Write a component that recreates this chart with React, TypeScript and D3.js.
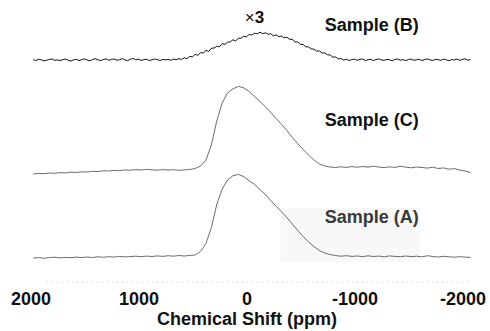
import React from "react";
import * as d3 from "d3";

// chemical shift grid (ppm), 50 ppm step for A and C, 25 ppm step for B
const ppmCoarse = [
  1980, 1930, 1880, 1830, 1780, 1730, 1680, 1630, 1580, 1530,
  1480, 1430, 1380, 1330, 1280, 1230, 1180, 1130, 1080, 1030,
  980, 930, 880, 830, 780, 730, 680, 630, 580, 530,
  480, 430, 380, 330, 280, 230, 180, 130, 80, 30,
  -20, -70, -120, -170, -220, -270, -320, -370, -420, -470,
  -520, -570, -620, -670, -720, -770, -820, -870, -920, -970,
  -1020, -1070, -1120, -1170, -1220, -1270, -1320, -1370, -1420, -1470,
  -1520, -1570, -1620, -1670, -1720, -1770, -1820, -1870, -1920, -1970,
  -2020, -2070,
];

const sampleA = [
  0.0, 0.5, -0.3, 0.4, 0.8, 0.1, 0.6, 0.3, 0.9, 0.4,
  1.0, 0.5, 1.2, 0.7, 1.3, 0.9, 1.6, 1.1, 1.4, 1.8,
  1.3, 1.9, 1.5, 2.1, 1.6, 2.3, 1.8, 2.5, 2.0, 2.6,
  3.0, 6.5, 14.5, 30.5, 53.5, 69.0, 78.0, 82.3, 83.6, 81.4,
  77.2, 73.6, 68.3, 63.7, 57.4, 51.8, 46.2, 40.3, 33.9, 27.6,
  21.5, 16.0, 11.5, 7.5, 5.0, 3.5, 2.4, 1.8, 2.3, 1.6,
  2.0, 1.4, 2.2, 1.5, 1.9, 1.2, 2.1, 1.6, 1.3, 2.0,
  1.4, 1.8, 1.1, 2.3, 1.5, 1.0, 1.7, 1.2, 0.8, 1.3,
  0.9, 0.6,
];

const sampleC = [
  0.0, 0.6, 0.3, 1.0, 0.7, 1.4, 1.1, 1.8, 1.5, 2.2,
  2.0, 2.7, 2.4, 3.2, 3.0, 3.6, 3.3, 4.1, 3.8, 4.4,
  4.0, 4.6, 4.2, 3.8, 4.4, 3.9, 4.3, 3.7, 4.1, 4.5,
  5.5, 8.0, 14.0, 29.0, 53.0, 71.0, 81.0, 85.2, 87.6, 86.1,
  82.6, 77.4, 72.6, 67.3, 61.6, 55.4, 49.6, 43.3, 36.6, 30.4,
  24.5, 19.0, 14.0, 10.0, 8.0, 7.0, 6.5, 7.2, 6.6, 7.4,
  6.8, 7.5, 6.9, 7.7, 7.0, 6.4, 7.2, 6.6, 7.8, 6.9,
  6.2, 7.0, 6.5, 5.9, 6.8, 5.5, 6.1, 4.8, 5.4, 4.0,
  3.0, 1.5,
];

const ppmFine = [
  1980, 1955, 1930, 1905, 1880, 1855, 1830, 1805, 1780, 1755,
  1730, 1705, 1680, 1655, 1630, 1605, 1580, 1555, 1530, 1505,
  1480, 1455, 1430, 1405, 1380, 1355, 1330, 1305, 1280, 1255,
  1230, 1205, 1180, 1155, 1130, 1105, 1080, 1055, 1030, 1005,
  980, 955, 930, 905, 880, 855, 830, 805, 780, 755,
  730, 705, 680, 655, 630, 605, 580, 555, 530, 505,
  480, 455, 430, 405, 380, 355, 330, 305, 280, 255,
  230, 205, 180, 155, 130, 105, 80, 55, 30, 5,
  -20, -45, -70, -95, -120, -145, -170, -195, -220, -245,
  -270, -295, -320, -345, -370, -395, -420, -445, -470, -495,
  -520, -545, -570, -595, -620, -645, -670, -695, -720, -745,
  -770, -795, -820, -845, -870, -895, -920, -945, -970, -995,
  -1020, -1045, -1070, -1095, -1120, -1145, -1170, -1195, -1220, -1245,
  -1270, -1295, -1320, -1345, -1370, -1395, -1420, -1445, -1470, -1495,
  -1520, -1545, -1570, -1595, -1620, -1645, -1670, -1695, -1720, -1745,
  -1770, -1795, -1820, -1845, -1870, -1895, -1920, -1945, -1970, -1995,
  -2020, -2045, -2070,
];

// shown x3
const sampleB = [
  0.3, -0.5, 0.8, 0.2, -0.9, -0.2, 0.6, 1.0, -0.4, 0.1,
  -0.7, 0.4, 0.9, -0.3, -1.0, 0.2, 0.7, -0.5, 0.3, 1.1,
  0.0, -0.8, 0.5, 1.3, 0.2, -0.6, 0.4, 1.2, -0.3, 0.6,
  1.0, -0.2, 0.3, 1.4, 0.1, -0.7, 0.8, 1.5, 0.2, 0.9,
  -0.4, 0.3, 0.8, -0.6, 0.2, 1.0, 0.4, -0.5, 0.6, 0.1,
  0.7, -0.3, 0.9, 0.2, 1.3, 0.6, 2.2, 1.4, 3.6, 3.1,
  5.8, 4.6, 7.4, 7.0, 9.6, 8.5, 11.8, 11.9, 13.8, 13.2,
  16.4, 15.6, 17.8, 18.1, 20.2, 19.1, 21.6, 21.9, 23.8, 23.1,
  25.6, 24.9, 26.8, 26.1, 27.8, 26.4, 27.2, 25.7, 26.3, 24.2,
  25.1, 23.4, 23.9, 22.1, 22.8, 20.6, 20.8, 18.0, 18.1, 15.6,
  15.5, 13.1, 13.2, 11.0, 10.9, 8.8, 9.1, 7.0, 7.1, 5.2,
  5.0, 2.8, 3.1, 1.2, 1.4, -0.2, 0.8, -0.5, 0.4, 0.9,
  -0.3, 0.6, 1.0, -0.5, 0.2, 0.8, -0.6, 0.5, 1.1, 0.0,
  -0.4, 0.7, 0.3, -0.8, 0.6, 1.0, -0.2, 0.4, -0.7, 0.5,
  0.9, -0.3, 0.2, 0.8, -0.6, 0.4, 1.1, 0.1, -0.5, 0.7,
  0.3, -0.4, 0.9, 0.2, -0.8, 0.5, 0.0, 1.0, -0.3, 0.6,
  1.2, -0.2, 0.4,
];

const xTicks = [2000, 1000, 0, -1000, -2000];
const sampleLabels = ["Sample (B)", "Sample (C)", "Sample (A)"];
const offsets = [198, 84, 0]; // vertical stacking of B, C, A

const width = 490;
const height = 331;
const font = "'Liberation Sans', Arial, Helvetica, sans-serif";

export default function App() {
  const x = d3.scaleLinear().domain([2000, -2000]).range([31, 463]);
  const y = d3.scaleLinear().domain([0, 258]).range([258, 0]);

  const mk = (ppm: number[], vals: number[], off: number) =>
    d3.line<number>()
      .x((_, i) => x(ppm[i]))
      .y((v) => y(v + off))(vals) || "";

  const pathB = mk(ppmFine, sampleB, offsets[0]);
  const pathC = mk(ppmCoarse, sampleC, offsets[1]);
  const pathA = mk(ppmCoarse, sampleA, offsets[2]);

  return (
    <svg width={width} height={height}
      style={{ position: "absolute", left: 0, top: 0, background: "#fff" }}
      fontFamily={font}>
      {/* faint scan background under A */}
      <rect x={x(-310)} y={y(50)} width={x(-1600) - x(-310)} height={y(-4) - y(50)} fill="#f8f8f8" />

      <path d={pathB} fill="none" stroke="#111" strokeWidth={1} strokeLinejoin="round" />
      <path d={pathC} fill="none" stroke="#5a5a5a" strokeWidth={0.9} />
      <path d={pathA} fill="none" stroke="#5a5a5a" strokeWidth={0.9} />

      <text x={x(-70)} y={23} textAnchor="middle" fontSize={17} fontWeight="bold" fill="#111">
        <tspan fontWeight="normal">×</tspan>3
      </text>

      {sampleLabels.map((s, i) => (
        <text key={s} x={x(-720)} y={[31, 126, 223][i]} fontSize={18} fontWeight="bold"
          fill={i === 2 ? "#3a3a3a" : "#111"}>{s}</text>
      ))}

      {/* faint axis remnant */}
      <line x1={x(1850)} x2={x(-2050)} y1={282} y2={282} stroke="#c4c4c4" strokeDasharray="1 4" />

      {xTicks.map((t) => (
        <text key={t} x={x(t)} y={305} textAnchor="middle" fontSize={18} fontWeight="bold" fill="#111">
          {t}
        </text>
      ))}
      <text x={x(0)} y={325} textAnchor="middle" fontSize={18} fontWeight="bold" fill="#111">
        Chemical Shift (ppm)
      </text>
    </svg>
  );
}
